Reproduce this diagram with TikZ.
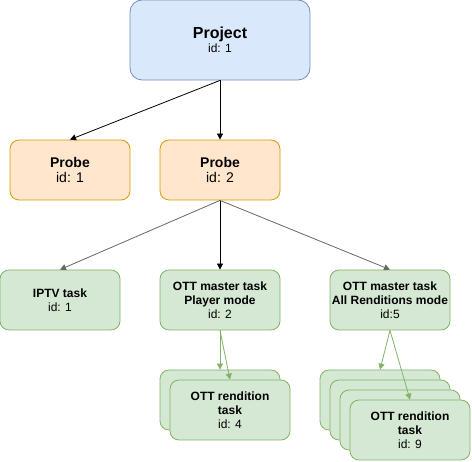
\documentclass[tikz,border=0pt]{standalone}
\usepackage{fontspec}
\setmainfont{Liberation Sans}
\usetikzlibrary{arrows.meta}

\definecolor{projFill}{HTML}{DAE8FC}
\definecolor{projDraw}{HTML}{6C8EBF}
\definecolor{probeFill}{HTML}{FFE6CC}
\definecolor{probeDraw}{HTML}{D79B00}
\definecolor{taskFill}{HTML}{D5E8D4}
\definecolor{taskDraw}{HTML}{82B366}

\tikzset{
	box/.style={draw, rounded corners=9pt, minimum width=120pt, minimum height=60pt, align=center, inner sep=1pt, line width=0.8pt, font=\fontsize{12}{14}\selectfont},
	projbox/.style={box, draw=projDraw, fill=projFill, minimum width=180pt, minimum height=80pt, rounded corners=12pt},
	probebox/.style={box, draw=probeDraw, fill=probeFill, font=\fontsize{14}{15}\selectfont},
	taskbox/.style={box, draw=taskDraw, fill=taskFill},
	link/.style={-{Triangle[length=6pt,width=6pt]}, line width=0.8pt},
	greylink/.style={link, draw=black!60},
	greenlink/.style={link, draw=taskDraw}
}

\begin{document}
\begin{tikzpicture}[x=1pt, y=-1pt]
			%%%%% START %%%%%
			\useasboundingbox (0, 0) rectangle (472, 462);
			
			\node[projbox] (project) at (220, 40) {{\fontsize{16}{18}\selectfont\bfseries Project}\\id: 1};
			
			\node[probebox] (probeA) at (70, 170) {\textbf{Probe}\\id: 1};
			\node[probebox] (probeB) at (220, 170) {\textbf{Probe}\\id: 2};
			
			\node[taskbox] (iptv) at (60, 300) {\textbf{IPTV task}\\id: 1};
			\node[taskbox] (ottPlayer) at (220, 300) {\textbf{OTT master task}\\\textbf{Player mode}\\id: 2};
			\node[taskbox] (ottAll) at (390, 300) {\textbf{OTT master task}\\\textbf{All Renditions mode}\\id:5};
			
			% rendition stacks
			\node[taskbox] (rendA1) at (220, 400) {};
			\node[taskbox] (rendA2) at (230, 410) {\textbf{OTT rendition}\\\textbf{task}\\id: 4};
			
			\node[taskbox] (rendB1) at (380, 400) {};
			\node[taskbox] (rendB2) at (390, 410) {};
			\node[taskbox] (rendB3) at (400, 420) {};
			\node[taskbox] (rendB4) at (410, 430) {\textbf{OTT rendition}\\\textbf{task}\\id: 9};
			
			\draw[link] (project.south) -- (probeA.north);
			\draw[link] (project.south) -- (probeB.north);
			
			\draw[greylink] (probeB.south) -- (iptv.north);
			\draw[link] (probeB.south) -- (ottPlayer.north);
			\draw[greylink] (probeB.south) -- (ottAll.north);
			
			\draw[greenlink] (ottPlayer.south) -- (rendA1.north);
			\draw[greenlink] (ottPlayer.south) -- (rendA2.north);
			\draw[greenlink] (ottAll.south) -- (rendB1.north);
			\draw[greenlink] (ottAll.south) -- (rendB4.north);
			
			%%%%% END %%%%%
\end{tikzpicture}
\end{document}
